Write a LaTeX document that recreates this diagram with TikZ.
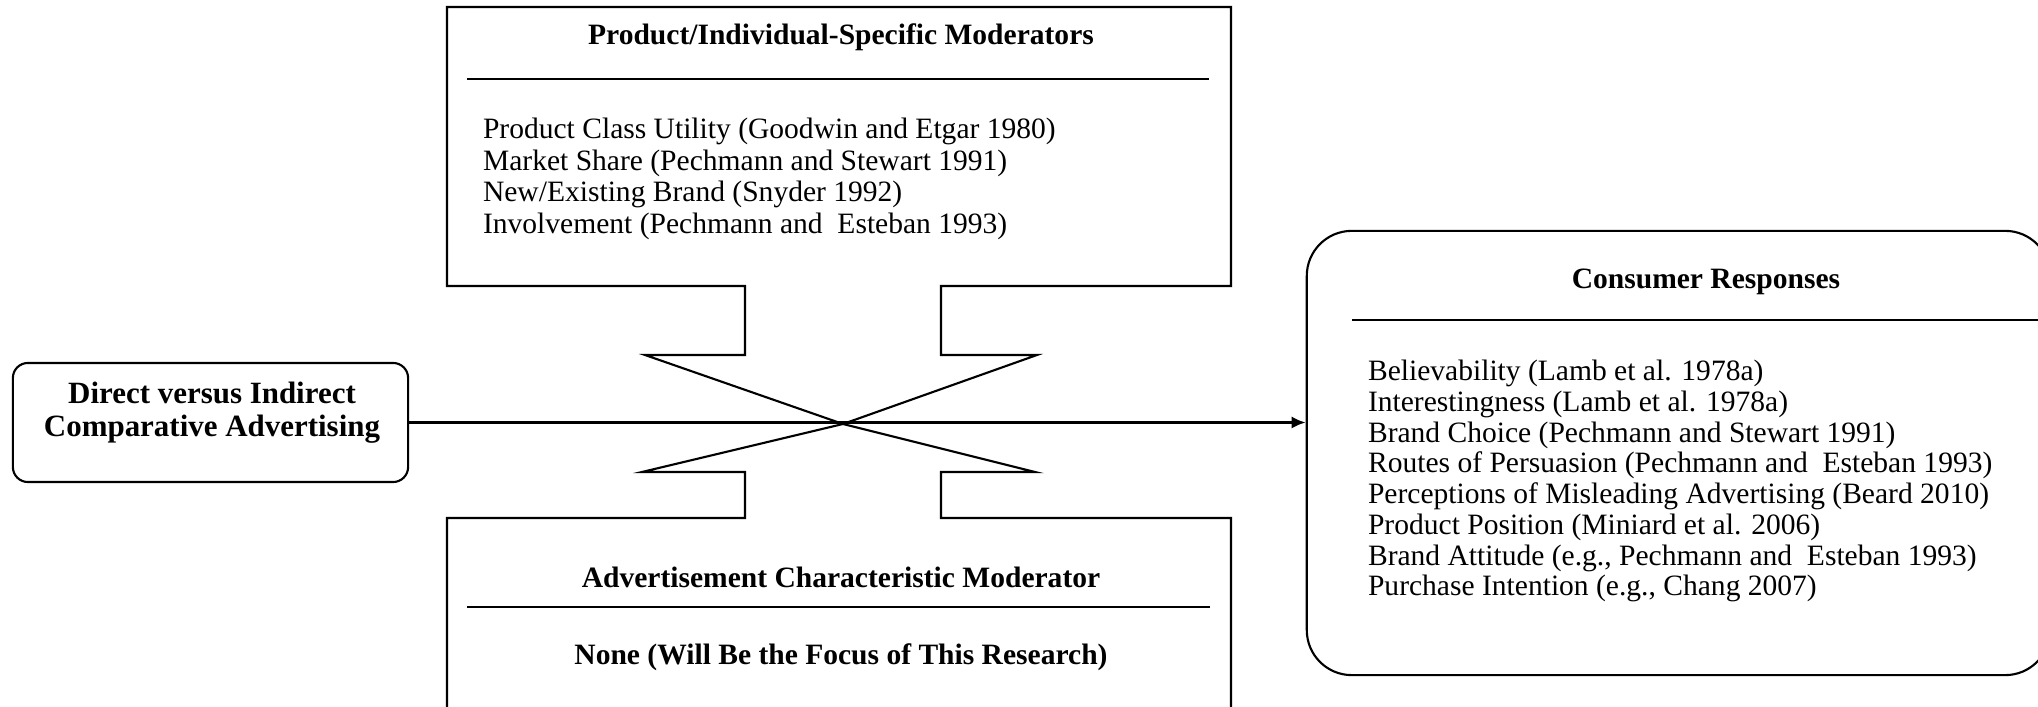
\documentclass[tikz,border=0pt]{standalone}
\usepackage{fontspec}
\setmainfont{Liberation Serif}
\usetikzlibrary{arrows.meta, positioning}

\begin{document}
\begin{tikzpicture}[x=0.01cm, y=-0.01cm, line width=0.6pt,
  roundbox/.style={draw, rounded corners=#1, inner sep=0pt},
  head/.style={font=\fontsize{8.4}{9}\selectfont\bfseries, inner sep=0pt},
  items/.style={font=\fontsize{8.4}{9}\selectfont, align=left, inner sep=0pt, anchor=north west}]

\useasboundingbox (0,0) rectangle (2038,707);
\clip (0,0) rectangle (2038,707);

% Moderator boxes, joined by the X
\coordinate (cross) at (843,424);
\draw (447,720) -- (447,518) -- (745,518) -- (745,472) -- (642,472) -- (cross)
  -- (1037,355) -- (941,355) -- (941,286) -- (1231,286) -- (1231,7) -- (447,7)
  -- (447,286) -- (745,286) -- (745,355) -- (645,355) -- (cross)
  -- (1035,472) -- (941,472) -- (941,518) -- (1231,518) -- (1231,720);

\node[head] (modhead) at (841,37) {Product/Individual-Specific Moderators};
\draw (467,79) -- (1209,79);
\node[items] (modlist) at (482,117) {Product Class Utility (Goodwin and Etgar 1980)\\
  Market Share (Pechmann and Stewart 1991)\\
  New/Existing Brand (Snyder 1992)\\
  Involvement (Pechmann and~ Esteban 1993)};

\node[head] (adhead) at (841,577) {Advertisement Characteristic Moderator};
\draw (467,607) -- (1210,607);
\node[head] (adnone) at (841,657) {None (Will Be the Focus of This Research)};

% Independent variable
\node[roundbox=0.15cm, minimum width=3.95cm, minimum height=1.19cm] (dir) at (210.5,422.5) {};
\node[font=\fontsize{8.8}{9.4}\selectfont\bfseries, align=center, inner sep=0pt] (dirtext) at (212,413)
  {Direct versus Indirect\\Comparative Advertising};

% Consumer responses
\node[roundbox=0.45cm, minimum width=7.43cm, minimum height=4.44cm] (resp) at (1678.5,453) {};
\node[head] (resphead) at (1706,282) {Consumer Responses};
\draw (1352,320) -- (2050,320);
\node[items, font=\fontsize{8.4}{8.75}\selectfont] (resplist) at (1367,359) {Believability (Lamb et al. 1978a)\\
  Interestingness (Lamb et al. 1978a)\\
  Brand Choice (Pechmann and Stewart 1991)\\
  Routes of Persuasion (Pechmann and~ Esteban 1993)\\
  Perceptions of Misleading Advertising (Beard 2010)\\
  Product Position (Miniard et al. 2006)\\
  Brand Attitude (e.g., Pechmann and~ Esteban 1993)\\
  Purchase Intention (e.g., Chang 2007)};

\draw[-{Latex[length=4pt,width=3.5pt]}, line width=0.9pt] (dir.east) -- (dir.east -| resp.west);

\end{tikzpicture}
\end{document}
